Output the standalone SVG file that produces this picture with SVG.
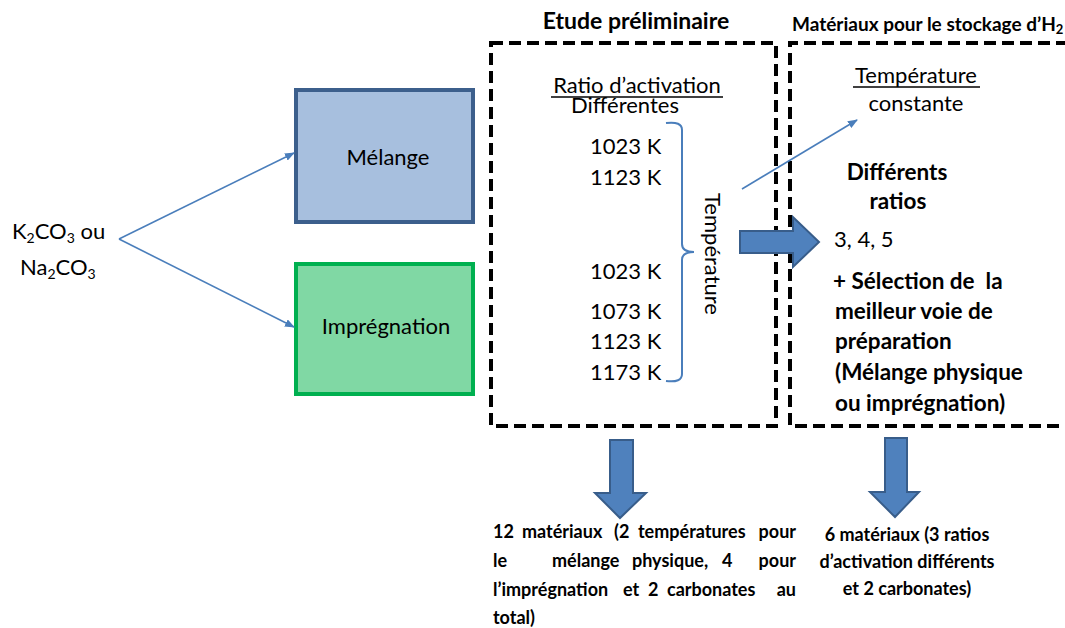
<svg xmlns="http://www.w3.org/2000/svg" width="1065" height="628" viewBox="0 0 1065 628">
<defs>
<style>
text{font-family:Lato,"Open Sans","Liberation Sans",sans-serif;fill:#000}
.r{font-size:22px}
.b{font-weight:bold}
.bb{font-size:22.5px;font-weight:bold}
.s{font-size:18px;font-weight:bold}
.dash{fill:none;stroke:#000;stroke-width:4;stroke-dasharray:12,6}
.thin{stroke:#4a7ebb;stroke-width:1.6;fill:none}
.big{fill:#4f81bd;stroke:#385d8a;stroke-width:2}
</style>
<marker id="ah" markerWidth="10" markerHeight="8" refX="9" refY="4" orient="auto" markerUnits="userSpaceOnUse"><path d="M0,0 L10,4 L0,8 Z" fill="#4a7ebb"/></marker>
</defs>
<rect width="1065" height="628" fill="#fff"/>

<g id="source">
<text class="r" x="12" y="239">K<tspan font-size="14" dy="4">2</tspan><tspan dy="-4">CO</tspan><tspan font-size="14" dy="4">3</tspan><tspan dy="-4"> ou</tspan></text>
<text class="r" x="20" y="275">Na<tspan font-size="14" dy="4">2</tspan><tspan dy="-4">CO</tspan><tspan font-size="14" dy="4">3</tspan></text>
</g>

<g id="melange">
<rect x="296" y="90" width="177" height="132" fill="#a7bfde" stroke="#3c5f8c" stroke-width="4"/>
<text class="r" x="388" y="165" text-anchor="middle">Mélange</text>
</g>
<g id="impregnation">
<rect x="296" y="264" width="177" height="130" fill="#80d8a4" stroke="#00b050" stroke-width="4"/>
<text class="r" x="386" y="334" text-anchor="middle">Imprégnation</text>
</g>

<g id="etude">
<text class="b" x="636" y="29" font-size="23" text-anchor="middle">Etude préliminaire</text>
<rect class="dash" x="491" y="43" width="285" height="383"/>
<text class="r" x="637" y="93" text-anchor="middle">Ratio d’activation</text>
<line x1="551" y1="97" x2="723" y2="97" stroke="#000" stroke-width="1.3"/>
<text class="r" x="625" y="113" text-anchor="middle">Différentes</text>
<text class="r" x="590" y="154">1023 K</text>
<text class="r" x="590" y="185">1123 K</text>
<text class="r" x="590" y="279">1023 K</text>
<text class="r" x="590" y="319">1073 K</text>
<text class="r" x="590" y="349">1123 K</text>
<text class="r" x="590" y="380">1173 K</text>
<path d="M666,123 Q682,121 682,130 L682,244 Q682,252 694,252 Q682,252 682,260 L682,374 Q682,383 666,381" fill="none" stroke="#4a7ebb" stroke-width="2"/>
<text class="r" transform="translate(705,254) rotate(90)" text-anchor="middle">Température</text>
</g>

<g id="stockage">
<text class="b" x="792" y="31" font-size="19">Matériaux pour le stockage d’H<tspan font-size="13" dy="3">2</tspan></text>
<path class="dash" d="M1068,43 L790,43 L790,426 L1068,426"/>
<text class="r" x="916" y="83" text-anchor="middle">Température</text>
<line x1="853" y1="87" x2="980" y2="87" stroke="#000" stroke-width="1.3"/>
<text class="r" x="916" y="111" text-anchor="middle">constante</text>
<text class="bb" x="897" y="180" text-anchor="middle">Différents</text>
<text class="bb" x="898" y="209" text-anchor="middle">ratios</text>
<text class="r" x="834" y="247">3, 4, 5</text>
<text class="bb" x="833" y="289" xml:space="preserve">+ Sélection de  la</text>
<text class="bb" x="835" y="319">meilleur voie de</text>
<text class="bb" x="835" y="349">préparation</text>
<text class="bb" x="835" y="380">(Mélange physique</text>
<text class="bb" x="835" y="411">ou imprégnation)</text>
</g>

<g id="result1">
<text class="s" y="538"><tspan x="493">12</tspan><tspan x="522">matériaux</tspan><tspan x="614">(2</tspan><tspan x="638">températures</tspan><tspan x="796" text-anchor="end">pour</tspan></text>
<text class="s" y="567"><tspan x="493">le</tspan><tspan x="552">mélange</tspan><tspan x="632">physique,</tspan><tspan x="722">4</tspan><tspan x="796" text-anchor="end">pour</tspan></text>
<text class="s" y="596"><tspan x="493">l’imprégnation</tspan><tspan x="623">et</tspan><tspan x="648">2</tspan><tspan x="667">carbonates</tspan><tspan x="796" text-anchor="end">au</tspan></text>
<text class="s" x="493" y="624">total)</text>
</g>
<g id="result2">
<text class="s" x="907" y="541" text-anchor="middle">6 matériaux (3 ratios</text>
<text class="s" x="907" y="568" text-anchor="middle">d’activation différents</text>
<text class="s" x="907" y="595" text-anchor="middle">et 2 carbonates)</text>
</g>

<g id="connectors">
<line class="thin" x1="119" y1="239" x2="294" y2="153" marker-end="url(#ah)"/>
<line class="thin" x1="119" y1="239" x2="294" y2="327" marker-end="url(#ah)"/>
<line class="thin" x1="742" y1="189" x2="857" y2="120" marker-end="url(#ah)"/>
<path class="big" d="M740,231 L793,231 L793,217 L819,242 L793,267 L793,253 L740,253 Z"/>
<path class="big" d="M610,440 L633,440 L633,493 L646,493 L620,518 L595,493 L610,493 Z"/>
<path class="big" d="M885,438 L907,438 L907,492 L919,492 L895,517 L870,492 L885,492 Z"/>
</g>
</svg>
